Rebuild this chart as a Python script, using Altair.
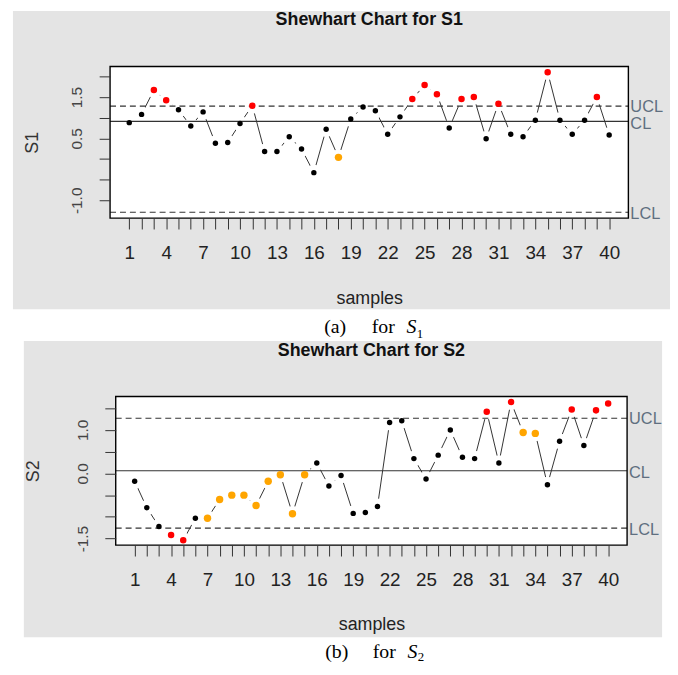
import altair as alt
import pandas as pd

# ---------------- data ----------------
samples = list(range(1, 41))
x_labelled = list(range(1, 41, 3))
limit_names = ["LCL", "CL", "UCL"]
limit_label_dy = [1.5, 2.5, 0.5]

s1_values = [0.88, 1.08, 1.67, 1.42, 1.19, 0.80, 1.14, 0.38, 0.40, 0.86,
             1.29, 0.18, 0.18, 0.54, 0.24, -0.33, 0.72, 0.04, 0.97, 1.26,
             1.17, 0.60, 1.02, 1.45, 1.79, 1.57, 0.75, 1.45, 1.50, 0.49,
             1.34, 0.60, 0.54, 0.94, 2.10, 0.94, 0.60, 0.94, 1.50, 0.58]
s1_beyond = [3, 4, 11, 24, 25, 26, 28, 29, 31, 35, 39]
s1_run = [18]
s1_limits = [-1.29, 0.91, 1.28]
s1_y_ticks = [-1.0, -0.5, 0.0, 0.5, 1.0, 1.5, 2.0]
s1_y_labelled = [-1.0, 0.5, 1.5]
s1_y_label_text = ["-1.0", "0.5", "1.5"]
s1_y_domain = [-1.43, 2.24]

s2_values = [-0.18, -0.79, -1.22, -1.42, -1.54, -1.03, -1.03, -0.60, -0.50, -0.50,
             -0.74, -0.18, -0.03, -0.93, -0.03, 0.24, -0.29, -0.05, -0.92, -0.90,
             -0.76, 1.17, 1.21, 0.34, -0.13, 0.42, 1.00, 0.37, 0.34, 1.42,
             0.24, 1.64, 0.94, 0.92, -0.26, 0.74, 1.47, 0.64, 1.45, 1.61]
s2_beyond = [4, 5, 30, 32, 37, 39, 40]
s2_run = [7, 8, 9, 10, 11, 12, 13, 14, 15, 33, 34]
s2_limits = [-1.26, 0.06, 1.27]
s2_y_ticks = [-1.5, -1.0, -0.5, 0.0, 0.5, 1.0, 1.5]
s2_y_labelled = [-1.5, 0.0, 1.0]
s2_y_label_text = ["-1.5", "0.0", "1.0"]
s2_y_domain = [-1.65, 1.77]

x_domain = [-0.56, 41.56]

# ---------------- style ----------------
SANS = "Liberation Sans"
SERIF = "Liberation Serif"
GREY_BG = "#e4e4e4"
LIM_LABEL = "#5f6f80"
INK = "#222222"


def status_of(beyond, run):
    return ["beyond" if s in beyond else ("run" if s in run else "in") for s in samples]


def panel(name, values, beyond, run, limits, y_domain, y_ticks, y_lab, y_lab_text,
          w, h, shift, grey, ext_bottom, title_y, ytitle_x, xtitle_y, cap_letter, cap_sub,
          cap_y, sub_y, cap_x):
    df = pd.DataFrame({"sample": samples, "value": values,
                       "status": status_of(beyond, run)})
    lim = pd.DataFrame({"name": limit_names, "value": limits, "dy": limit_label_dy})
    one = pd.DataFrame({"k": [0]})
    gw = w + shift

    x_expr = "indexof(" + str(x_labelled) + ", datum.value) >= 0 ? datum.label : ''"
    y_expr = " : ".join(f"datum.value == {v} ? '{t}'" for v, t in zip(y_lab, y_lab_text)) + " : ''"

    xaxis = alt.Axis(values=samples, labelExpr=x_expr, title="samples", grid=False,
                     domain=False, tickSize=11, tickColor="#333333", tickWidth=1,
                     labelFont=SANS, labelFontSize=19, labelColor=INK,
                     labelBaseline="alphabetic", labelPadding=30, labelFlush=False,
                     labelOverlap=False, titleFont=SANS, titleFontSize=18,
                     titleFontWeight="normal", titleColor=INK, titleX=shift + w / 2,
                     titleY=xtitle_y, titleBaseline="middle", titleAlign="center",
                     zindex=2)
    yaxis = alt.Axis(values=y_ticks, labelExpr=y_expr, title=name, grid=False,
                     domain=False, tickSize=11, tickColor="#333333", tickWidth=1,
                     labelAngle=270, labelAlign="center", labelBaseline="alphabetic",
                     labelPadding=17.5, labelFont=SANS, labelFontSize=15.5,
                     labelColor="#444444", labelFlush=False, labelOverlap=False,
                     titleFont=SANS, titleFontSize=18, titleFontWeight="normal",
                     titleColor="#333333", titleAngle=270, titleX=ytitle_x - shift,
                     titleY=h / 2, titleAlign="center", titleBaseline="middle",
                     offset=-shift, zindex=2)

    xs = alt.Scale(domain=x_domain, range=[shift, shift + w], nice=False, zero=False)
    ys = alt.Scale(domain=y_domain, nice=False, zero=False)
    X = alt.X("sample:Q", scale=xs, axis=xaxis)
    Y = alt.Y("value:Q", scale=ys, axis=yaxis)

    bg = alt.Chart(one).mark_rect(color=GREY_BG, clip=False).encode(
        x=alt.value(grey[0]), x2=alt.value(grey[1]), y=alt.value(grey[2]), y2=alt.value(grey[3]))
    extender = alt.Chart(one).mark_rect(color="white", opacity=0, clip=False).encode(
        x=alt.value(grey[0]), x2=alt.value(grey[1]), y=alt.value(grey[2]), y2=alt.value(ext_bottom))
    plotbg = alt.Chart(one).mark_rect(color="white").encode(
        x=alt.value(shift), x2=alt.value(gw), y=alt.value(0), y2=alt.value(h))

    line = alt.Chart(df).mark_line(color="#333333", strokeWidth=1).encode(x=X, y=Y, order="sample:Q")
    halo = alt.Chart(df).mark_circle(color="white", opacity=1, size=250, clip=True).encode(x=X, y=Y)

    dashed = alt.Chart(lim).transform_filter("datum.name != 'CL'").mark_rule(
        color="#333333", strokeWidth=1.1, strokeDash=[6, 4]).encode(
        y=Y, x=alt.value(shift), x2=alt.value(gw))
    solid = alt.Chart(lim).transform_filter("datum.name == 'CL'").mark_rule(
        color="#333333", strokeWidth=1.1).encode(y=Y, x=alt.value(shift), x2=alt.value(gw))

    pts = alt.Chart(df).mark_circle(opacity=1).encode(
        x=X, y=Y,
        color=alt.Color("status:N", scale=alt.Scale(domain=["in", "beyond", "run"],
                                                    range=["#000000", "#ff0000", "#ffa500"]),
                        legend=None),
        size=alt.Size("status:N", scale=alt.Scale(domain=["in", "beyond", "run"],
                                                  range=[30, 56, 56]), legend=None))

    lim_texts = []
    for nm, d in zip(limit_names, limit_label_dy):
        lim_texts.append(
            alt.Chart(lim).transform_filter(f"datum.name == '{nm}'").mark_text(
                align="left", baseline="middle", dy=d, font=SANS, fontSize=16.5,
                color=LIM_LABEL).encode(x=alt.value(gw + 2), y=Y, text="name:N"))

    frame = alt.Chart(one).mark_rect(fillOpacity=0, stroke="#000000", strokeWidth=1.4).encode(
        x=alt.value(shift), x2=alt.value(gw), y=alt.value(0), y2=alt.value(h))

    title = alt.Chart(one).mark_text(text=f"Shewhart Chart for {name}", font=SANS, fontSize=18,
                                     fontWeight="bold", align="center", baseline="middle",
                                     color="#111111").encode(x=alt.value(shift + w / 2),
                                                             y=alt.value(title_y))

    cap1 = alt.Chart(one).mark_text(text=f"({cap_letter})", font=SERIF, fontSize=20, align="left",
                                    baseline="alphabetic", color="#000000").encode(
        x=alt.value(cap_x[0]), y=alt.value(cap_y))
    cap2 = alt.Chart(one).mark_text(text="for", font=SERIF, fontSize=20, align="left",
                                    baseline="alphabetic", color="#000000").encode(
        x=alt.value(cap_x[1]), y=alt.value(cap_y))
    cap3 = alt.Chart(one).mark_text(text="S", font=SERIF, fontSize=20, fontStyle="italic",
                                    align="left", baseline="alphabetic", color="#000000").encode(
        x=alt.value(cap_x[2]), y=alt.value(cap_y))
    cap4 = alt.Chart(one).mark_text(text=cap_sub, font=SERIF, fontSize=13, align="left",
                                    baseline="alphabetic", color="#000000").encode(
        x=alt.value(cap_x[3]), y=alt.value(sub_y))

    return alt.layer(bg, extender, plotbg, line, halo, dashed, solid, pts, *lim_texts, frame,
                     title, cap1, cap2, cap3, cap4).properties(width=gw, height=h)


# panel 1: plot area at page x 111..634, y 64..217
p1 = panel("S1", s1_values, s1_beyond, s1_run, s1_limits, s1_y_domain, s1_y_ticks,
           s1_y_labelled, s1_y_label_text, w=523, h=153, shift=0,
           grey=(-98, 565, -56, 245), ext_bottom=277, title_y=-47,
           ytitle_x=-78.5, xtitle_y=81, cap_letter="a", cap_sub="1",
           cap_y=269, sub_y=274, cap_x=(216, 264, 299, 309.5))

# panel 2: plot area at page x 116.7..632.7, y 397..547
p2 = panel("S2", s2_values, s2_beyond, s2_run, s2_limits, s2_y_domain, s2_y_ticks,
           s2_y_labelled, s2_y_label_text, w=516, h=150, shift=5.7,
           grey=(-87, 557, -56, 243), ext_bottom=243, title_y=-45.5,
           ytitle_x=-77.7, xtitle_y=80.5, cap_letter="b", cap_sub="2",
           cap_y=264, sub_y=267, cap_x=(217, 265, 300, 310.5))

chart = alt.vconcat(p1, p2, spacing=0).properties(
    padding={"left": 5, "top": 0, "right": 0, "bottom": 0},
).configure(background="white").configure_view(strokeWidth=0)

chart.save("out.html", embed_options={"renderer": "svg", "actions": False})
